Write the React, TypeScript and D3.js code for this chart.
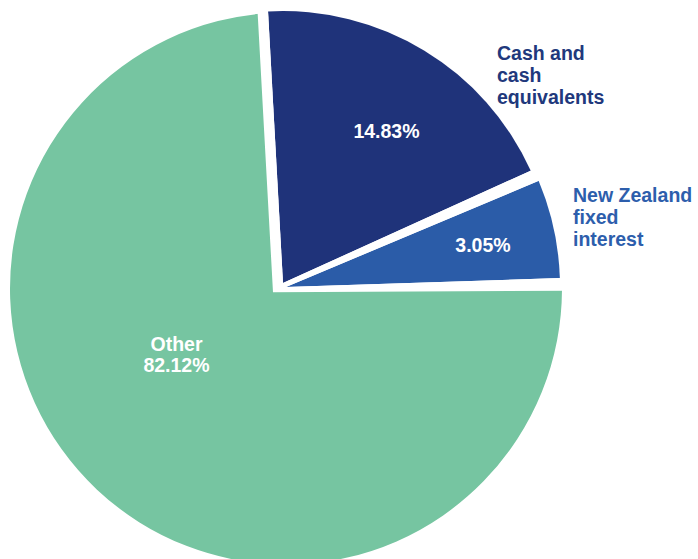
import * as d3 from "d3"

// printed values
const categories = ["Cash and cash equivalents", "New Zealand fixed interest", "Other"]
const shares = [14.83, 3.05, 82.12]
// the source graphic does not draw its slices to scale, so the sweep of each
// slice is read off the picture separately (percent of the full circle)
const drawnShares = [19.1, 6.7, 74.2]
const colors = ["#1f337a", "#2b5ca8", "#76c5a1"]
const calloutLines = [["Cash and", "cash", "equivalents"], ["New Zealand", "fixed", "interest"], []]
const calloutColors = ["#21387c", "#2d5eac", ""]

// layout
const W = 698
const H = 559
const CX = 286
const CY = 288.5
const deg = Math.PI / 180
const startAngle = -3.15 * deg
const sliceShift = [[-3, -5.5], [0, -1.5], [0, 0]]
// in the source the corner of "Other" sits off the centre of its arc
const apexShift = [[0, 0], [0, 0], [-13, 3.7]]
const sliceRadius = [272, 274, 276]
const slicePad = [0, 3.2 * deg, 0]
const insidePos = [[386.5, 138], [483, 252], [176.5, 350.5]]
const calloutPos = [[497, 60], [573, 202]]
const fontSize = 19.5
const lineGap = 22

const fmt = (v: number) => d3.format(".2f")(v) + "%"

export default function App() {
  const pie = d3
    .pie<number>()
    .sort(null)
    .startAngle(startAngle)
    .endAngle(startAngle + 2 * Math.PI)
    .value((d) => d)
  const arcs = pie(drawnShares)
  const arc = d3.arc<any>()

  const slices = arcs.map((d, i) => {
    const a0 = d.startAngle + slicePad[i] / 2
    const a1 = d.endAngle - slicePad[i] / 2
    const cx = CX + sliceShift[i][0]
    const cy = CY + sliceShift[i][1]
    return {
      i,
      cx,
      cy,
      body: arc({ innerRadius: 0, outerRadius: sliceRadius[i], startAngle: a0, endAngle: a1 }) || "",
      wedge: arc({ innerRadius: 0, outerRadius: 900, startAngle: a0, endAngle: a1 }) || "",
      ax: cx + apexShift[i][0],
      ay: cy + apexShift[i][1],
    }
  })

  const insideLines = shares.map((v, i) => (i === 2 ? ["Other", fmt(v)] : [fmt(v)]))

  return (
    <svg
      width={W}
      height={H}
      style={{ position: "absolute", left: 0, top: 0, background: "#fff" }}
      fontFamily="'Liberation Sans', Arial, sans-serif"
      fontWeight="bold"
      fontSize={fontSize}
    >
      <defs>
        {slices.map((s) => (
          <clipPath id={`slice-clip-${s.i}`} key={s.i}>
            <path d={s.wedge} transform={`translate(${s.ax},${s.ay})`} />
          </clipPath>
        ))}
      </defs>

      {slices.map((s) => (
        <g key={s.i} clipPath={`url(#slice-clip-${s.i})`}>
          <path d={s.body} transform={`translate(${s.cx},${s.cy})`} fill={colors[s.i]}>
            <title>{categories[s.i]}</title>
          </path>
        </g>
      ))}

      {insideLines.map((lines, i) => (
        <text key={i} x={insidePos[i][0]} y={insidePos[i][1]} textAnchor="middle" fill="#fff">
          {lines.map((t, j) => (
            <tspan key={j} x={insidePos[i][0]} y={insidePos[i][1] + j * 21.5}>
              {t}
            </tspan>
          ))}
        </text>
      ))}

      {calloutPos.map((p, i) => (
        <text key={i} x={p[0]} y={p[1]} fill={calloutColors[i]}>
          {calloutLines[i].map((t, j) => (
            <tspan key={j} x={p[0]} y={p[1] + j * lineGap}>
              {t}
            </tspan>
          ))}
        </text>
      ))}
    </svg>
  )
}
